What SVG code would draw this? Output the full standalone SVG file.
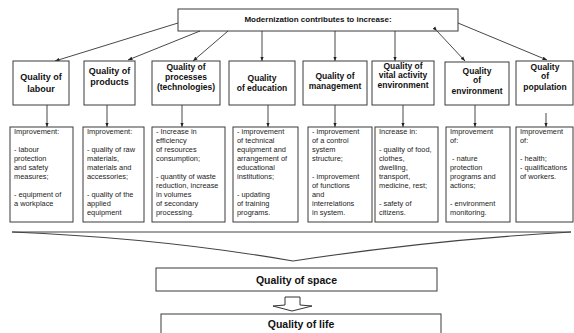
<svg xmlns="http://www.w3.org/2000/svg" width="574" height="333" viewBox="0 0 574 333">
<style>
.box{fill:#fff;stroke:#3a3a3a;stroke-width:1}
.t{font-family:"Liberation Sans",Arial,sans-serif;font-weight:bold;font-size:8.5px;fill:#111;text-anchor:middle}
.t9{font-size:9px}
.h{font-family:"Liberation Sans",Arial,sans-serif;font-weight:bold;font-size:8px;fill:#111;text-anchor:middle}
.s{font-family:"Liberation Sans",Arial,sans-serif;font-size:7.4px;fill:#222}
.big{font-family:"Liberation Sans",Arial,sans-serif;font-weight:bold;font-size:10.5px;fill:#111;text-anchor:middle}
.c{stroke:#333;stroke-width:0.9;fill:none}
</style>
<defs>
<marker id="ah" viewBox="0 0 10 10" refX="10" refY="5" markerWidth="4.5" markerHeight="4.5" orient="auto" markerUnits="userSpaceOnUse"><path d="M0,1 L10,5 L0,9 Z" fill="#222"/></marker>
</defs>
<rect width="574" height="333" fill="#fff"/>

<g id="top">
<rect class="box" x="178" y="9" width="280" height="22"/>
<text class="h" x="318" y="22">Modernization contributes to increase:</text>
</g>

<g id="connectors">
<path class="c" d="M178,23 L55,61" marker-end="url(#ah)"/>
<path class="c" d="M200,31 L128,60" marker-end="url(#ah)"/>
<path class="c" d="M228,31 L193,61" marker-end="url(#ah)"/>
<path class="c" d="M262,31 V61" marker-end="url(#ah)"/>
<path class="c" d="M335,31 V61" marker-end="url(#ah)"/>
<path class="c" d="M395,31 V61" marker-end="url(#ah)"/>
<path class="c" d="M437,31 L465,61" marker-end="url(#ah)" marker-start="url(#ah)"/>
<path class="c" d="M458,23 L547,60" marker-end="url(#ah)"/>
<path class="c" d="M47,105 V127" marker-end="url(#ah)"/>
<path class="c" d="M107,105 V127" marker-end="url(#ah)"/>
<path class="c" d="M182,105 V127" marker-end="url(#ah)"/>
<path class="c" d="M268,105 V127" marker-end="url(#ah)"/>
<path class="c" d="M335,105 V127" marker-end="url(#ah)"/>
<path class="c" d="M403,105 V127" marker-end="url(#ah)"/>
<path class="c" d="M475,105 V127" marker-end="url(#ah)"/>
<path class="c" d="M546,113 V127" marker-end="url(#ah)"/>
</g>

<g id="q-labour">
<rect class="box" x="13" y="61" width="56" height="44"/>
<text class="t t9" x="41" y="80">Quality of</text>
<text class="t t9" x="41" y="92">labour</text>
</g>
<g id="q-products">
<rect class="box" x="84" y="61" width="51" height="44"/>
<text class="t t9" x="109.5" y="74">Quality of</text>
<text class="t t9" x="109.5" y="84.5">products</text>
</g>
<g id="q-processes">
<rect class="box" x="152" y="61" width="68" height="44"/>
<text class="t" x="186" y="70">Quality of</text>
<text class="t" x="186" y="80">processes</text>
<text class="t" x="186" y="90">(technologies)</text>
</g>
<g id="q-education">
<rect class="box" x="229" y="61" width="66" height="44"/>
<text class="t" x="262" y="81">Quality</text>
<text class="t" x="262" y="91">of education</text>
</g>
<g id="q-management">
<rect class="box" x="303" y="61" width="64" height="44"/>
<text class="t" x="335" y="79">Quality of</text>
<text class="t" x="335" y="89">management</text>
</g>
<g id="q-vital">
<rect class="box" x="372" y="61" width="62" height="44"/>
<text class="t" x="403" y="69">Quality of</text>
<text class="t" x="403" y="78">vital activity</text>
<text class="t" x="403" y="88">environment</text>
</g>
<g id="q-environment">
<rect class="box" x="445" y="62" width="64" height="43"/>
<text class="t" x="477" y="74">Quality</text>
<text class="t" x="477" y="83">of</text>
<text class="t" x="477" y="94">environment</text>
</g>
<g id="q-population">
<rect class="box" x="516" y="61" width="57" height="44"/>
<text class="t" x="545" y="70">Quality</text>
<text class="t" x="545" y="79">of</text>
<text class="t" x="545" y="90">population</text>
</g>

<g id="d-labour">
<rect class="box" x="10" y="127" width="63" height="95"/>
<text class="s"><tspan x="14" y="134">Improvement:</tspan><tspan x="14" y="152">- labour</tspan><tspan x="14" y="161">protection</tspan><tspan x="14" y="170">and safety</tspan><tspan x="14" y="179">measures;</tspan><tspan x="14" y="197">- equipment of</tspan><tspan x="14" y="206">a workplace</tspan></text>
</g>
<g id="d-products">
<rect class="box" x="83" y="127" width="61" height="95"/>
<text class="s"><tspan x="87" y="134">Improvement:</tspan><tspan x="87" y="152">- quality of raw</tspan><tspan x="87" y="161">materials,</tspan><tspan x="87" y="170">materials and</tspan><tspan x="87" y="179">accessories;</tspan><tspan x="87" y="197">- quality of the</tspan><tspan x="87" y="206">applied</tspan><tspan x="87" y="215">equipment</tspan></text>
</g>
<g id="d-processes">
<rect class="box" x="152" y="127" width="73" height="95"/>
<text class="s"><tspan x="156" y="134">- Increase in</tspan><tspan x="156" y="143">efficiency</tspan><tspan x="156" y="152">of resources</tspan><tspan x="156" y="161">consumption;</tspan><tspan x="156" y="179">- quantity of waste</tspan><tspan x="156" y="188">reduction, increase</tspan><tspan x="156" y="197">in volumes</tspan><tspan x="156" y="206">of secondary</tspan><tspan x="156" y="215">processing.</tspan></text>
</g>
<g id="d-education">
<rect class="box" x="233" y="127" width="65" height="95"/>
<text class="s"><tspan x="237" y="134">- improvement</tspan><tspan x="237" y="143">of technical</tspan><tspan x="237" y="152">equipment and</tspan><tspan x="237" y="161">arrangement of</tspan><tspan x="237" y="170">educational</tspan><tspan x="237" y="179">institutions;</tspan><tspan x="237" y="197">- updating</tspan><tspan x="237" y="206">of training</tspan><tspan x="237" y="215">programs.</tspan></text>
</g>
<g id="d-management">
<rect class="box" x="308" y="127" width="64" height="95"/>
<text class="s"><tspan x="312" y="134">- improvement</tspan><tspan x="312" y="143">of a control</tspan><tspan x="312" y="152">system</tspan><tspan x="312" y="161">structure;</tspan><tspan x="312" y="179">- improvement</tspan><tspan x="312" y="188">of functions</tspan><tspan x="312" y="197">and</tspan><tspan x="312" y="206">interrelations</tspan><tspan x="312" y="215">in system.</tspan></text>
</g>
<g id="d-vital">
<rect class="box" x="375" y="127" width="63" height="95"/>
<text class="s"><tspan x="379" y="134">Increase in:</tspan><tspan x="379" y="152">- quality of food,</tspan><tspan x="379" y="161">clothes,</tspan><tspan x="379" y="170">dwelling,</tspan><tspan x="379" y="179">transport,</tspan><tspan x="379" y="188">medicine, rest;</tspan><tspan x="379" y="206">- safety of</tspan><tspan x="379" y="215">citizens.</tspan></text>
</g>
<g id="d-environment">
<rect class="box" x="446" y="127" width="64" height="95"/>
<text class="s"><tspan x="450" y="134">Improvement</tspan><tspan x="450" y="143">of:</tspan><tspan x="450" y="161"> - nature</tspan><tspan x="450" y="170">protection</tspan><tspan x="450" y="179">programs and</tspan><tspan x="450" y="188">actions;</tspan><tspan x="450" y="206">- environment</tspan><tspan x="450" y="215">monitoring.</tspan></text>
</g>
<g id="d-population">
<rect class="box" x="516" y="127" width="57" height="95"/>
<text class="s"><tspan x="520" y="134">Improvement</tspan><tspan x="520" y="143">of:</tspan><tspan x="520" y="161">- health;</tspan><tspan x="520" y="170">- qualifications</tspan><tspan x="520" y="179">of workers.</tspan></text>
</g>

<g id="brace">
<path d="M12,232 H571" stroke="#444" stroke-width="1" fill="none"/>
<path d="M12,232 Q160,238 293,261 Q430,240 571,232" stroke="#444" stroke-width="1.1" fill="none"/>
</g>

<g id="q-space">
<rect class="box" x="156" y="268" width="281" height="23"/>
<text class="big" x="296.5" y="283.5">Quality of space</text>
</g>

<g id="hollow-arrow">
<path d="M285,297 H300 V305 L312,306 L292,311 L273,306 L285,305 Z" fill="#fff" stroke="#333" stroke-width="1"/>
</g>

<g id="q-life">
<rect class="box" x="161" y="314" width="280" height="25"/>
<text class="big" x="301" y="328">Quality of life</text>
</g>
</svg>
